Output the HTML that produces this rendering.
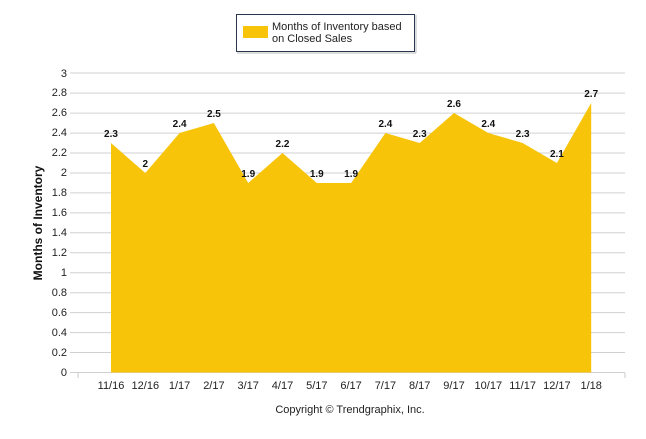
<!DOCTYPE html>
<html><head><style>body{margin:0;background:#fff}</style></head><body>
<svg width="646" height="434" xmlns="http://www.w3.org/2000/svg" font-family="Liberation Sans, sans-serif">
<rect width="646" height="434" fill="#fff"/>
<g stroke="#d0d0d0" stroke-width="1">
<line x1="70" x2="625" y1="372.5" y2="372.5"/><line x1="70" x2="625" y1="352.5" y2="352.5"/><line x1="70" x2="625" y1="332.6" y2="332.6"/><line x1="70" x2="625" y1="312.6" y2="312.6"/><line x1="70" x2="625" y1="292.7" y2="292.7"/><line x1="70" x2="625" y1="272.7" y2="272.7"/><line x1="70" x2="625" y1="252.8" y2="252.8"/><line x1="70" x2="625" y1="232.8" y2="232.8"/><line x1="70" x2="625" y1="212.9" y2="212.9"/><line x1="70" x2="625" y1="192.9" y2="192.9"/><line x1="70" x2="625" y1="173" y2="173"/><line x1="70" x2="625" y1="153" y2="153"/><line x1="70" x2="625" y1="133.1" y2="133.1"/><line x1="70" x2="625" y1="113.1" y2="113.1"/><line x1="70" x2="625" y1="93.1" y2="93.1"/><line x1="70" x2="625" y1="73" y2="73"/>
</g>
<polygon fill="#f7c40a" points="111,372.5 111,143 145.3,173 179.6,133 213.9,123 248.2,183 282.5,153 316.8,183 351.1,183 385.4,133 419.7,143 454,113 488.3,133 522.6,143 556.9,163 591.2,103 591.2,372.5"/>
<g stroke="#c8c8c8"><line x1="78" x2="78" y1="373" y2="378"/><line x1="625" x2="625" y1="373" y2="378"/></g>
<g font-size="11" fill="#222" text-anchor="end">
<text x="67" y="376">0</text><text x="67" y="356">0.2</text><text x="67" y="336">0.4</text><text x="67" y="316">0.6</text><text x="67" y="296">0.8</text><text x="67" y="276">1</text><text x="67" y="256">1.2</text><text x="67" y="236">1.4</text><text x="67" y="216">1.6</text><text x="67" y="196">1.8</text><text x="67" y="176">2</text><text x="67" y="156">2.2</text><text x="67" y="136">2.4</text><text x="67" y="116">2.6</text><text x="67" y="96">2.8</text><text x="67" y="77">3</text>
</g>
<g font-size="11" fill="#222" text-anchor="middle">
<text x="111" y="389">11/16</text><text x="145.3" y="389">12/16</text><text x="179.6" y="389">1/17</text><text x="213.9" y="389">2/17</text><text x="248.2" y="389">3/17</text><text x="282.5" y="389">4/17</text><text x="316.8" y="389">5/17</text><text x="351.1" y="389">6/17</text><text x="385.4" y="389">7/17</text><text x="419.7" y="389">8/17</text><text x="454" y="389">9/17</text><text x="488.3" y="389">10/17</text><text x="522.6" y="389">11/17</text><text x="556.9" y="389">12/17</text><text x="591.2" y="389">1/18</text>
</g>
<g font-size="10" font-weight="bold" fill="#111" text-anchor="middle">
<text x="111" y="137">2.3</text><text x="145.3" y="167">2</text><text x="179.6" y="127">2.4</text><text x="213.9" y="117">2.5</text><text x="248.2" y="177">1.9</text><text x="282.5" y="147">2.2</text><text x="316.8" y="177">1.9</text><text x="351.1" y="177">1.9</text><text x="385.4" y="127">2.4</text><text x="419.7" y="137">2.3</text><text x="454" y="107">2.6</text><text x="488.3" y="127">2.4</text><text x="522.6" y="137">2.3</text><text x="556.9" y="157">2.1</text><text x="591.2" y="97">2.7</text>
</g>
<text transform="translate(42,223) rotate(-90)" font-size="12" font-weight="bold" text-anchor="middle" fill="#111">Months of Inventory</text>
<text x="350" y="413" font-size="11" text-anchor="middle" fill="#222">Copyright © Trendgraphix, Inc.</text>
<rect x="236.5" y="14.5" width="178" height="37" fill="#fff" stroke="#2a3550"/>
<line x1="237" y1="53" x2="416" y2="53" stroke="#bbb"/><line x1="416" y1="15" x2="416" y2="53" stroke="#bbb"/>
<rect x="243" y="26" width="25" height="12" fill="#f7c40a"/>
<text x="272" y="30" font-size="11" fill="#222">Months of Inventory based</text>
<text x="272" y="42" font-size="11" fill="#222">on Closed Sales</text>
</svg>
</body></html>
